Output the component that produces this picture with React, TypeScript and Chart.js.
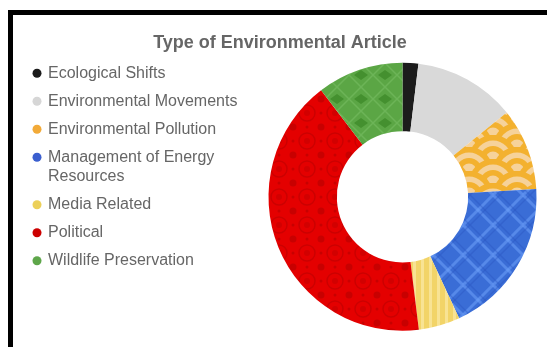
import React, { useEffect, useRef } from "react";
import { Chart, registerables } from "chart.js";

Chart.register(...registerables);

const titleText = "Type of Environmental Article";
const categories = [
  "Ecological Shifts",
  "Environmental Movements",
  "Environmental Pollution",
  "Management of Energy Resources",
  "Media Related",
  "Political",
  "Wildlife Preservation",
];
const shares = [1.9, 12.3, 9.9, 19.0, 5.0, 41.6, 10.4];
const legendColors = ["#1b1b1b", "#d6d6d6", "#f2aa38", "#3b5fcf", "#ecd059", "#cc0000", "#5ea64a"];
const patternKinds = ["black", "gray", "waves", "plaid", "stripes", "ornate", "diamonds"];

const FONT = '"Liberation Sans", Arial, Helvetica, sans-serif';

function tile(w: number, h: number, draw: (c: CanvasRenderingContext2D) => void): CanvasPattern | string {
  const cv = document.createElement("canvas");
  cv.width = w;
  cv.height = h;
  const c = cv.getContext("2d")!;
  draw(c);
  const ctx = document.createElement("canvas").getContext("2d")!;
  return ctx.createPattern(cv, "repeat") || "#999";
}

function makeFill(kind: string): CanvasPattern | string {
  switch (kind) {
    case "black":
      return "#1c1c1c";
    case "gray":
      return "#d9d9d9";
    case "waves":
      return tile(48, 24, (c) => {
        c.fillStyle = "#f3b12f";
        c.fillRect(0, 0, 48, 24);
        for (let k = -2; k <= 4; k++) {
          const y = k * 12;
          const xo = Math.abs(k) % 2 ? 24 : 0;
          for (const x of [-48, 0, 48, 96].map((v) => v + xo)) {
            const radii = [24, 18.5, 13, 7.5];
            radii.forEach((r, idx) => {
              c.fillStyle = idx % 2 ? "#f6d29a" : "#f3b12f";
              c.beginPath();
              c.arc(x, y, r, Math.PI, Math.PI * 2);
              c.closePath();
              c.fill();
            });
          }
        }
      });
    case "plaid":
      return tile(30, 30, (c) => {
        c.fillStyle = "#3a6dd6";
        c.fillRect(0, 0, 30, 30);
        c.strokeStyle = "rgba(110,160,250,0.55)";
        c.lineWidth = 3;
        for (const off of [-30, 0, 30]) {
          c.beginPath();
          c.moveTo(off, 0);
          c.lineTo(off + 30, 30);
          c.stroke();
          c.beginPath();
          c.moveTo(off, 30);
          c.lineTo(off + 30, 0);
          c.stroke();
        }
        c.strokeStyle = "rgba(40,80,190,0.35)";
        c.lineWidth = 1.5;
        for (const off of [-30, 0, 30]) {
          c.beginPath();
          c.moveTo(off + 7, 0);
          c.lineTo(off + 37, 30);
          c.stroke();
          c.beginPath();
          c.moveTo(off + 7, 30);
          c.lineTo(off + 37, 0);
          c.stroke();
        }
      });
    case "stripes":
      return tile(8, 8, (c) => {
        c.fillStyle = "#f2d468";
        c.fillRect(0, 0, 8, 8);
        c.fillStyle = "#f8e394";
        c.fillRect(0, 0, 3, 8);
      });
    case "ornate":
      return tile(28, 28, (c) => {
        c.fillStyle = "#e40000";
        c.fillRect(0, 0, 28, 28);
        c.strokeStyle = "#cc0000";
        c.lineWidth = 1.5;
        c.beginPath();
        c.arc(14, 14, 8, 0, Math.PI * 2);
        c.stroke();
        c.fillStyle = "#d20000";
        c.beginPath();
        c.arc(14, 14, 3, 0, Math.PI * 2);
        c.fill();
        c.fillStyle = "#c80000";
        for (const [x, y] of [[0, 0], [28, 0], [0, 28], [28, 28]]) {
          c.beginPath();
          c.arc(x, y, 3.5, 0, Math.PI * 2);
          c.fill();
        }
        for (const [x, y] of [[14, 0], [0, 14], [28, 14], [14, 28]]) {
          c.beginPath();
          c.arc(x, y, 1.5, 0, Math.PI * 2);
          c.fill();
        }
      });
    case "diamonds":
      return tile(24, 24, (c) => {
        c.fillStyle = "#5ba645";
        c.fillRect(0, 0, 24, 24);
        c.fillStyle = "#44902f";
        c.beginPath();
        c.moveTo(12, 7);
        c.lineTo(19, 12);
        c.lineTo(12, 17);
        c.lineTo(5, 12);
        c.closePath();
        c.fill();
        c.strokeStyle = "rgba(120,190,100,0.6)";
        c.lineWidth = 1.5;
        c.beginPath();
        c.moveTo(0, 12);
        c.lineTo(12, 0);
        c.lineTo(24, 12);
        c.lineTo(12, 24);
        c.closePath();
        c.stroke();
      });
  }
  return "#999";
}

function wrapText(ctx: CanvasRenderingContext2D, text: string, maxWidth: number): string[] {
  const words = text.split(" ");
  const lines: string[] = [];
  let cur = "";
  for (const w of words) {
    const t = cur ? cur + " " + w : w;
    if (cur && ctx.measureText(t).width > maxWidth) {
      lines.push(cur);
      cur = w;
    } else cur = t;
  }
  if (cur) lines.push(cur);
  return lines;
}

const titleAndLegend = {
  id: "titleAndLegend",
  afterDraw(chart: any) {
    const ctx: CanvasRenderingContext2D = chart.ctx;
    const labels: string[] = chart.data.labels;
    ctx.save();
    ctx.font = `bold 18px ${FONT}`;
    ctx.fillStyle = "#666666";
    ctx.textAlign = "center";
    ctx.textBaseline = "alphabetic";
    ctx.fillText(titleText, chart.width / 2, 33);

    ctx.font = `16px ${FONT}`;
    ctx.textBaseline = "middle";
    ctx.textAlign = "left";
    let y = 58.3;
    labels.forEach((label, i) => {
      ctx.fillStyle = legendColors[i];
      ctx.beginPath();
      ctx.arc(24, y, 4.5, 0, Math.PI * 2);
      ctx.fill();
      ctx.fillStyle = "#666666";
      const lines = wrapText(ctx, label, 210);
      lines.forEach((ln, j) => ctx.fillText(ln, 35, y + j * 19.4));
      y += 28 + 19.4 * (lines.length - 1);
    });
    ctx.restore();
  },
};

export default function App() {
  const ref = useRef<HTMLCanvasElement | null>(null);
  useEffect(() => {
    if (!ref.current) return;
    const chart = new Chart(ref.current, {
      type: "doughnut",
      data: {
        labels: categories,
        datasets: [
          {
            data: shares,
            backgroundColor: patternKinds.map(makeFill) as any,
            borderWidth: 0,
          },
        ],
      },
      options: {
        responsive: false,
        animation: false,
        cutout: "49%",
        layout: { padding: { left: 255.5, right: 10.5, top: 47.6, bottom: 16 } },
        plugins: {
          legend: { display: false },
          tooltip: { enabled: false },
          title: { display: false },
        },
      },
      plugins: [titleAndLegend],
    });
    return () => chart.destroy();
  }, []);
  return (
    <div
      style={{
        position: "absolute",
        left: 8,
        top: 10,
        width: 534,
        height: 332,
        borderTop: "5px solid #000",
        borderLeft: "5px solid #000",
        background: "#fff",
      }}
    >
      <canvas ref={ref} width={534} height={332} style={{ display: "block", width: 534, height: 332 }} />
    </div>
  );
}
